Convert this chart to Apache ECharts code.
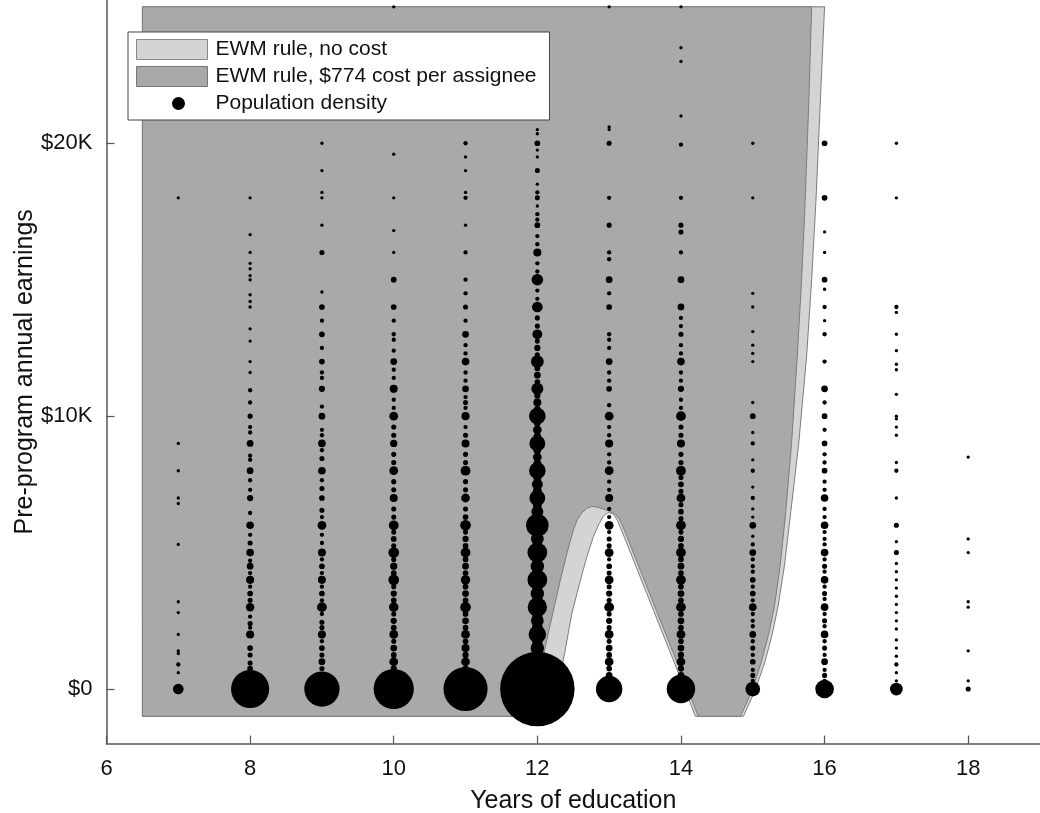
<!DOCTYPE html>
<html>
<head>
<meta charset="utf-8">
<script src="https://cdn.jsdelivr.net/npm/echarts@6/dist/echarts.min.js"></script>
<style>
html, body { margin: 0; padding: 0; background: #fff; }
#chart { width: 1040px; height: 813px; }
</style>
</head>
<body>
<div id="chart"></div>
<script>
// tick labels
var xTicks = [6, 8, 10, 12, 14, 16, 18];
var yTicks = [0, 10000, 20000];

// population density: [pre-program earnings, number of people] per years of education
var educationLevels = [7, 8, 9, 10, 11, 12, 13, 14, 15, 16, 17, 18];
var edu7 = [[0,17],[600,1],[900,2],[1300,1],[1400,1],[2000,1],[2800,1],[3200,1],[5300,1],[6800,1],[7000,1],[8000,1],[9000,1],[18000,1]];
var edu8 = [[0,250],[150,3],[350,4],[550,4],[750,4],[950,3],[1250,3],[1500,4],[2000,9],[2250,2],[2400,3],[2650,2],[3000,10],[3250,3],[3500,4],[3750,2],[4000,9],[4250,2],[4500,6],[4700,2],[5000,8],[5350,3],[5650,2],[6000,8],[6450,2],[7000,5],[7300,2],[7650,2],[8000,6],[8400,2],[8550,2],[9000,6],[9400,2],[9600,2],[10000,3],[10500,2],[10950,2],[11600,1],[12000,1],[12750,1],[13200,1],[14000,1],[14200,1],[14450,1],[15000,1],[15150,1],[15400,1],[15600,1],[16000,1],[16650,1],[18000,1]];
var edu9 = [[0,213],[250,4],[500,5],[750,3],[1000,6],[1250,3],[1500,4],[1750,2],[2000,9],[2250,3],[2450,3],[2750,2],[3000,14],[3250,2],[3500,4],[3750,2],[4000,9],[4250,2],[4500,4],[4750,2],[5000,9],[5350,2],[5650,2],[6000,11],[6300,2],[6550,3],[7000,4],[7350,3],[7650,2],[8000,8],[8450,3],[8750,2],[9000,8],[9300,2],[9500,2],[10000,6],[10350,2],[11000,5],[11400,2],[11600,2],[12000,4],[12500,2],[13000,4],[13500,2],[14000,4],[14550,1],[16000,3],[17000,1],[18000,1],[18200,1],[19000,1],[20000,1]];
var edu10 = [[0,278],[250,6],[500,6],[750,5],[1000,11],[1250,4],[1500,6],[1750,3],[2000,11],[2250,4],[2500,5],[2750,3],[3000,13],[3250,4],[3500,5],[3750,3],[4000,17],[4250,4],[4500,7],[4750,3],[5000,17],[5250,3],[5500,4],[5750,3],[6000,14],[6300,3],[6600,3],[7000,9],[7300,3],[7600,3],[8000,11],[8300,3],[8600,3],[9000,7],[9300,3],[9600,3],[10000,11],[10300,2],[10600,2],[11000,9],[11400,2],[11700,2],[12000,6],[12400,2],[12800,2],[13000,2],[13500,2],[14000,4],[15000,4],[16000,1],[16800,1],[18000,1],[19600,1],[25000,1]];
var edu11 = [[0,336],[250,6],[500,7],[750,5],[1000,11],[1250,5],[1500,9],[1750,4],[2000,11],[2250,4],[2500,6],[2750,4],[3000,17],[3250,4],[3500,6],[3750,4],[4000,13],[4250,4],[4500,6],[4750,4],[5000,14],[5250,4],[5500,5],[5750,3],[6000,17],[6300,4],[6600,3],[7000,11],[7300,3],[7600,3],[8000,14],[8300,3],[8600,3],[9000,9],[9300,3],[9600,2],[10000,9],[10300,2],[10500,3],[10700,2],[11000,6],[11300,2],[11600,2],[12000,8],[12300,2],[12600,2],[13000,6],[13500,2],[14000,3],[14500,2],[15000,2],[16000,2],[17000,1],[18000,2],[18200,1],[19000,1],[19500,1],[20000,2]];
var edu12 = [[0,977],[250,20],[500,25],[750,20],[1000,40],[1250,18],[1500,28],[1750,16],[2000,49],[2250,18],[2500,25],[2750,16],[3000,60],[3250,18],[3500,28],[3750,16],[4000,64],[4250,18],[4500,28],[4750,16],[5000,64],[5250,16],[5500,25],[5750,14],[6000,84],[6250,14],[6500,22],[6750,12],[7000,40],[7250,12],[7500,18],[7750,10],[8000,44],[8250,10],[8500,11],[8750,8],[9000,40],[9250,8],[9500,11],[9750,6],[10000,44],[10250,6],[10500,9],[10750,5],[11000,22],[11250,4],[11500,6],[11750,4],[12000,25],[12250,3],[12500,5],[12750,3],[13000,14],[13300,3],[13600,3],[14000,17],[14300,2],[14600,2],[15000,20],[15300,2],[15600,2],[16000,9],[16300,2],[16600,2],[17000,4],[17200,2],[17400,2],[17700,1],[18000,3],[18200,2],[18500,1],[19000,3],[19500,1],[19750,1],[20000,4],[20350,1],[20500,1]];
var edu13 = [[0,117],[250,5],[500,6],[750,4],[1000,11],[1250,4],[1500,6],[1750,3],[2000,11],[2250,3],[2500,5],[2750,3],[3000,14],[3250,3],[3500,5],[3750,3],[4000,11],[4250,3],[4500,4],[4750,2],[5000,11],[5250,3],[5500,3],[5750,2],[6000,11],[6300,2],[6600,2],[7000,9],[7300,2],[7600,2],[8000,11],[8300,2],[8600,2],[9000,9],[9300,2],[9600,2],[10000,11],[10400,2],[11000,4],[11300,2],[11600,2],[12000,6],[12500,2],[12800,2],[13000,2],[14000,4],[14500,2],[15000,6],[15750,2],[16000,2],[17000,3],[18000,2],[20000,3],[20500,1],[20600,1],[25000,1]];
var edu14 = [[0,136],[250,6],[500,6],[750,5],[1000,11],[1250,5],[1500,6],[1750,4],[2000,11],[2250,4],[2500,6],[2750,4],[3000,14],[3250,4],[3500,6],[3750,4],[4000,14],[4250,4],[4500,6],[4750,4],[5000,14],[5250,4],[5500,5],[5750,3],[6000,14],[6250,3],[6500,4],[6750,3],[7000,11],[7250,3],[7500,4],[7750,3],[8000,14],[8300,3],[8600,3],[9000,9],[9300,3],[9600,3],[10000,14],[10300,2],[10600,2],[11000,5],[11300,2],[11600,2],[12000,8],[12300,2],[12600,2],[13000,3],[13300,2],[13600,2],[14000,6],[15000,6],[16000,2],[16750,3],[17000,3],[18000,2],[19950,2],[21000,1],[23000,1],[23500,1],[25000,1]];
var edu15 = [[0,34],[300,2],[500,3],[700,2],[1000,4],[1250,2],[1500,3],[1750,2],[2000,6],[2300,2],[2500,2],[2750,2],[3000,8],[3250,2],[3500,4],[3750,2],[4000,4],[4300,2],[4500,2],[4750,2],[5000,6],[5300,2],[5600,1],[6000,6],[6300,1],[6600,1],[7000,2],[7400,1],[8000,2],[8400,1],[9000,2],[9400,1],[10000,4],[10500,1],[12000,1],[12300,1],[12600,1],[13100,1],[14000,1],[14500,1],[18000,1],[20000,1]];
var edu16 = [[0,56],[300,2],[500,3],[700,2],[1000,6],[1250,2],[1500,3],[1750,2],[2000,8],[2300,2],[2500,3],[2750,2],[3000,8],[3300,2],[3500,3],[3750,2],[4000,8],[4300,2],[4500,3],[4750,2],[5000,8],[5300,2],[5500,2],[5750,2],[6000,8],[6300,2],[6600,2],[7000,8],[7300,2],[7600,2],[8000,4],[8300,2],[8600,2],[9000,4],[9500,2],[10000,4],[10500,2],[11000,6],[12000,2],[13000,2],[13500,1],[14000,2],[14650,1],[15000,4],[16000,1],[16750,1],[18000,4],[20000,4]];
var edu17 = [[0,25],[300,1],[600,1],[900,2],[1200,1],[1500,1],[1800,1],[2200,1],[2500,1],[2800,1],[3100,1],[3400,1],[3700,1],[4000,1],[4300,1],[4600,1],[5000,3],[5400,1],[6000,3],[7000,1],[8000,2],[8300,1],[9300,1],[9600,1],[9900,1],[10000,1],[10800,1],[11700,1],[11900,1],[12400,1],[13000,1],[13800,1],[14000,2],[18000,1],[20000,1]];
var edu18 = [[0,3],[300,1],[1400,1],[3000,1],[3200,1],[5000,1],[5500,1],[8500,1]];

// treated regions: [years of education, earnings] outline vertices
var noCostRule = [[6.5,25000],[16.0,25000],[15.94,21500],[15.88,17900],[15.82,15000],[15.75,12200],[15.64,9000],[15.53,6500],[15.44,4500],[15.35,3000],[15.27,2000],[15.17,1000],[15.04,0],[14.87,-1000],
    [14.2,-1000],[14.1,-300],[14.0,360],[13.9,1020],[13.8,1680],[13.7,2340],[13.6,3000],[13.5,3660],[13.4,4320],[13.3,4980],[13.2,5640],[13.12,6150],[13.08,6330],[13.04,6430],[13.0,6460],
    [12.96,6430],[12.92,6330],[12.86,6060],[12.78,5580],[12.69,4850],[12.6,3990],[12.48,2770],[12.38,1310],[12.29,150],[12.2,-1000],[6.5,-1000]];
var costRule = [[6.5,25000],[15.82,25000],[15.78,21500],[15.73,17900],[15.68,15000],[15.62,12200],[15.54,9000],[15.46,6500],[15.38,4500],[15.3,3000],[15.22,2000],[15.12,1000],[15.0,0],[14.83,-1000],
    [14.24,-1000],[14.1,-40],[14.0,620],[13.9,1280],[13.8,1940],[13.7,2600],[13.6,3260],[13.5,3920],[13.4,4580],[13.3,5240],[13.2,5900],[13.14,6240],[13.08,6420],[13.0,6520],
    [12.9,6610],[12.83,6670],[12.76,6690],[12.69,6620],[12.62,6450],[12.56,6220],[12.5,5820],[12.41,4950],[12.32,3990],[12.2,2600],[12.09,1300],[11.99,150],[11.9,-1000],[6.5,-1000]];

var columns = [edu7, edu8, edu9, edu10, edu11, edu12, edu13, edu14, edu15, edu16, edu17, edu18];
var dots = [];
educationLevels.forEach(function (ed, i) {
    columns[i].forEach(function (p) {
        dots.push([ed, p[0], p[1]]);
    });
});

var regionItem = function (points, fill) {
    return function (params, api) {
        if (params.dataIndex !== 0) {
            return null;
        }
        return {
            type: 'polygon',
            shape: { points: points.map(function (p) { return api.coord(p); }) },
            style: { fill: fill, stroke: '#7c7c7c', lineWidth: 1 }
        };
    };
};

var fontFamily = '"Liberation Sans", Arial, Helvetica, sans-serif';
var axisColor = '#555';

var option = {
    animation: false,
    textStyle: { fontFamily: fontFamily },
    grid: { left: 106.5, right: 0, top: 0, bottom: 69.4, outerBoundsMode: 'none', containLabel: false },
    legend: {
        orient: 'vertical',
        left: 128,
        top: 32,
        padding: [7, 13, 6, 8],
        itemWidth: 71,
        itemHeight: 20,
        itemGap: 6,
        backgroundColor: '#fff',
        borderColor: '#444',
        borderWidth: 1,
        borderRadius: 0,
        selectedMode: false,
        textStyle: { fontSize: 21, color: '#111', fontFamily: fontFamily, padding: [0, 0, 0, 3] },
        data: [
            { name: 'EWM rule, no cost', icon: 'rect', itemStyle: { color: '#d4d4d4', borderColor: '#888', borderWidth: 1 } },
            { name: 'EWM rule, $774 cost per assignee', icon: 'rect', itemStyle: { color: '#a9a9a9', borderColor: '#777', borderWidth: 1 } },
            { name: 'Population density', icon: 'path://M0,0M27,20M20,3.5A6.5,6.5,0,1,1,19.99,3.5Z', itemStyle: { color: '#000', borderWidth: 0 } }
        ]
    },
    xAxis: {
        type: 'value',
        min: 6,
        max: 19,
        name: 'Years of education',
        nameLocation: 'middle',
        nameGap: 45,
        nameMoveOverlap: false,
        nameTextStyle: { fontSize: 25, color: '#111', fontFamily: fontFamily },
        axisLine: { show: true, onZero: false, lineStyle: { color: axisColor, width: 1.5 } },
        axisTick: { show: true, inside: true, length: 8, customValues: xTicks, lineStyle: { color: axisColor, width: 1.2 } },
        axisLabel: { fontSize: 22, color: '#111', margin: 14, customValues: xTicks },
        splitLine: { show: false }
    },
    yAxis: {
        type: 'value',
        min: -2000,
        max: 25250,
        name: 'Pre-program annual earnings',
        nameLocation: 'middle',
        nameGap: 69,
        nameMoveOverlap: false,
        nameTextStyle: { fontSize: 25, color: '#111', fontFamily: fontFamily },
        axisLine: { show: true, onZero: false, lineStyle: { color: axisColor, width: 1.5 } },
        axisTick: { show: true, inside: true, length: 8, customValues: yTicks, lineStyle: { color: axisColor, width: 1.2 } },
        axisLabel: {
            fontSize: 22, color: '#111', margin: 14, customValues: yTicks,
            formatter: function (v) { return v === 0 ? '$0' : '$' + (v / 1000) + 'K'; }
        },
        splitLine: { show: false }
    },
    series: [
        {
            name: 'EWM rule, no cost',
            type: 'custom',
            z: 1,
            itemStyle: { color: '#d4d4d4' },
            renderItem: regionItem(noCostRule, '#d4d4d4'),
            data: noCostRule
        },
        {
            name: 'EWM rule, $774 cost per assignee',
            type: 'custom',
            z: 2,
            itemStyle: { color: '#a9a9a9' },
            renderItem: regionItem(costRule, '#a9a9a9'),
            data: costRule
        },
        {
            name: 'Population density',
            type: 'scatter',
            z: 3,
            symbol: 'circle',
            symbolSize: function (val) { return 2.35 * Math.sqrt(val[2]) + 1; },
            itemStyle: { color: '#000', opacity: 1 },
            emphasis: { disabled: true },
            data: dots
        }
    ]
};

var chart = echarts.init(document.getElementById('chart'));
chart.setOption(option);
</script>
</body>
</html>
